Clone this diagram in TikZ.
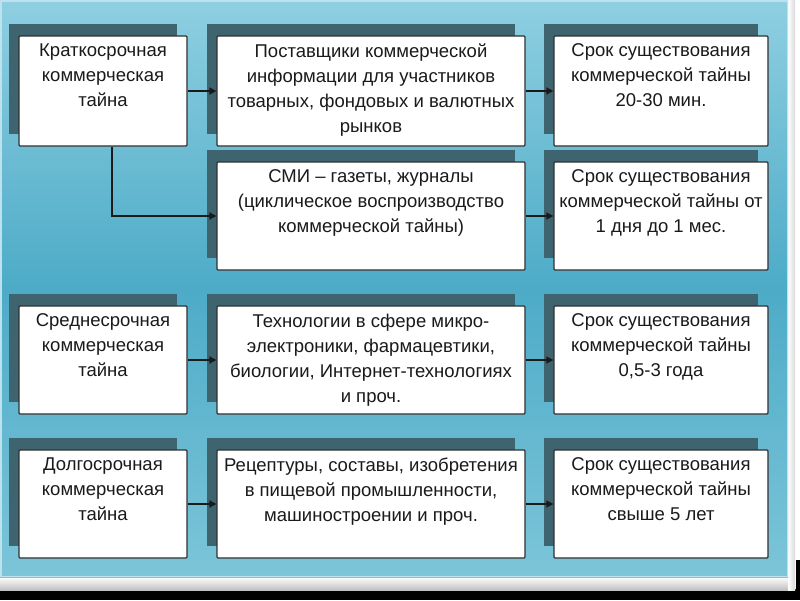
\documentclass[tikz,border=0pt]{standalone}
\usepackage{fontspec}
\setmainfont[FakeStretch=1.0]{Liberation Sans}
\usetikzlibrary{arrows.meta}
\definecolor{shadowc}{HTML}{3E6470}
\definecolor{boxline}{HTML}{303030}
\definecolor{inkc}{HTML}{1A1A1A}
\definecolor{bluetop}{HTML}{8FCFE1}
\definecolor{bluemid}{HTML}{4DABC7}
\definecolor{bluebot}{HTML}{7CC5D9}
\tikzset{
  x=1pt, y=-1pt,
  boxst/.style={draw=boxline, fill=white, line width=1.2pt, inner sep=0pt, rounded corners=1pt},
  txt/.style={font=\fontsize{18.5}{25}\selectfont, align=center, inner sep=0pt, text=inkc},
  arr/.style={draw=inkc, line width=1.5pt, -{Triangle[length=7pt,width=7pt]}},
  shad/.style={fill=shadowc}
}
\newcommand\tbox[6]{%
  \fill[shad] (#2-10,#3-12) rectangle (#4-10,#5-12);
  \node[boxst, minimum width={(#4-#2)*1pt}, minimum height={(#5-#3)*1pt}] (#1) at ({(#2+#4)/2},{(#3+#5)/2}) {};
  \node[txt, anchor=north] (#1t) at ([yshift=-8pt]#1.north) {#6};
}
\begin{document}
\begin{tikzpicture}
\useasboundingbox (0,0) rectangle (800,600);
% slide background
\fill[white] (0,0) rectangle (800,600);
\fill[black] (0,589) rectangle (800,600);
\fill[black] (796,560) rectangle (800,600);
\shade[top color=white, bottom color=black!25] (0,577) rectangle (795,590);
\shade[left color=white, right color=black!15] (788,0) rectangle (795,590);
% blue panel
\shade[top color=bluetop, bottom color=bluebot, middle color=bluemid] (0,0) rectangle (788,577);
\draw[color=bluetop!60!white, line width=1.5pt] (0.75,0.75) rectangle (787.25,576.25);

% boxes
\tbox{A}{19}{36}{187}{146}{Краткосрочная\\коммерческая\\тайна}
\tbox{B}{217}{36}{525}{146}{Поставщики коммерческой\\информации для участников\\товарных, фондовых и валютных\\рынков}
\tbox{C}{554}{36}{768}{146}{Срок существования\\коммерческой тайны\\20-30 мин.}
\tbox{D}{217}{162}{525}{270}{СМИ – газеты, журналы\\(циклическое воспроизводство\\коммерческой тайны)}
\tbox{E}{554}{162}{768}{270}{Срок существования\\коммерческой тайны от\\1 дня до 1 мес.}
\tbox{F}{19}{306}{187}{414}{Среднесрочная\\коммерческая\\тайна}
\tbox{H}{217}{306}{525}{414}{Технологии в сфере микро-\\электроники, фармацевтики,\\биологии, Интернет-технологиях\\и проч.}
\tbox{I}{554}{306}{768}{414}{Срок существования\\коммерческой тайны\\0,5-3 года}
\tbox{G}{19}{450}{187}{558}{Долгосрочная\\коммерческая\\тайна}
\tbox{J}{217}{450}{525}{558}{Рецептуры, составы, изобретения\\в пищевой промышленности,\\машиностроении и проч.}
\tbox{K}{554}{450}{768}{558}{Срок существования\\коммерческой тайны\\свыше 5 лет}

% connectors
\draw[arr] (A) -- (B);
\draw[arr] (B) -- (C);
\draw[arr] ([xshift=9pt]A.south) |- (D.west);
\draw[arr] (D) -- (E);
\draw[arr] (F) -- (H);
\draw[arr] (H) -- (I);
\draw[arr] (G) -- (J);
\draw[arr] (J) -- (K);
\end{tikzpicture}
\end{document}
